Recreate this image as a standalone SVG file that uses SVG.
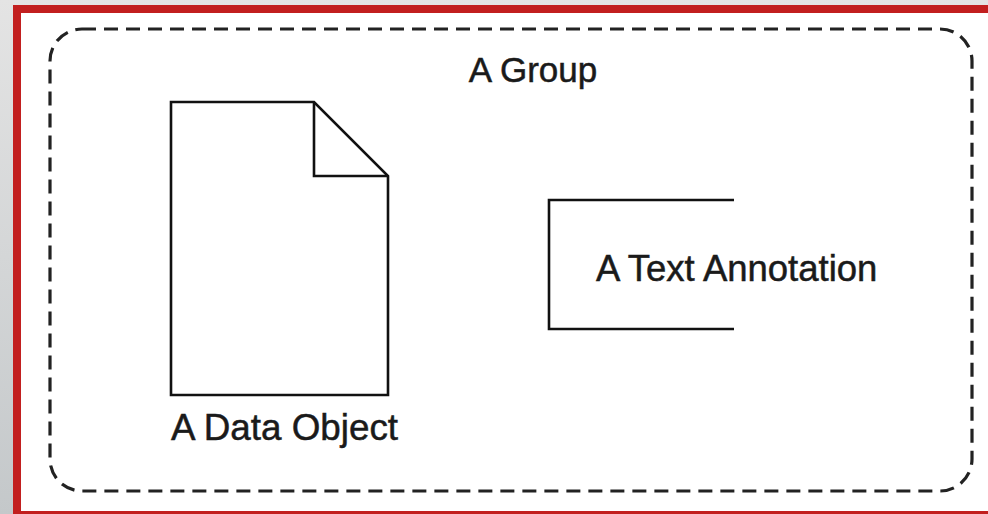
<svg xmlns="http://www.w3.org/2000/svg" width="988" height="514" viewBox="0 0 988 514">
  <style>
    .lbl { font-family: "Liberation Sans", Arial, sans-serif; fill: #1a1a1a; stroke: #1a1a1a; stroke-width: 0.5; }
    .shape { fill: none; stroke: #111; stroke-width: 2.6; stroke-linejoin: miter; }
  </style>
  <defs>
    <linearGradient id="bg" x1="0" y1="0" x2="0" y2="1">
      <stop offset="0" stop-color="#e4e4e4"/>
      <stop offset="1" stop-color="#c4c8ca"/>
    </linearGradient>
  </defs>
  <rect x="0" y="0" width="988" height="514" fill="url(#bg)"/>
  <rect x="17" y="9" width="990" height="506" fill="#ffffff" stroke="#c21f1f" stroke-width="8"/>

  <g id="group">
    <rect x="50" y="29" width="922" height="462" rx="32" ry="32" fill="none" stroke="#222" stroke-width="3.2" stroke-dasharray="14 8"/>
    <text class="lbl" x="533" y="82" font-size="35" text-anchor="middle">A Group</text>
  </g>

  <g id="data-object">
    <path class="shape" d="M171 102 H314 L388 176 V395 H171 Z"/>
    <path class="shape" d="M314 102 V176 H388"/>
    <text class="lbl" x="171" y="440" font-size="36.8">A Data Object</text>
  </g>

  <g id="text-annotation">
    <path class="shape" d="M734 200 H549 V329 H734"/>
    <text class="lbl" x="596" y="281" font-size="36.5">A Text Annotation</text>
  </g>

  <g id="connectors"></g>
</svg>
